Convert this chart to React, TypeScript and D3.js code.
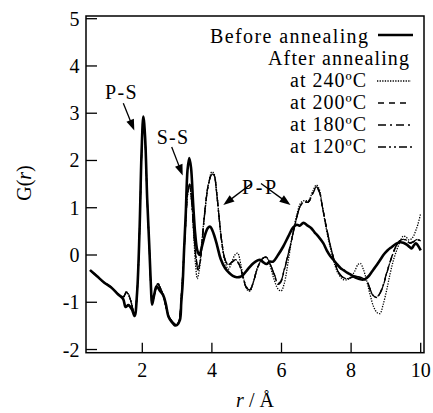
import React from 'react';
import * as d3 from 'd3';

const W = 433;
const H = 413;

const xTicks = [2, 4, 6, 8, 10];
const yTicks = [-2, -1, 0, 1, 2, 3, 4, 5];

const legendLabels = ['at 240ºC', 'at 200ºC', 'at 180ºC', 'at 120ºC'];

const before: [number, number][] = [
  [0.5, -0.32], [0.7, -0.45], [0.9, -0.58], [1.1, -0.68], [1.3, -0.83], [1.45, -0.93],
  [1.52, -1.1], [1.6, -1.06], [1.7, -1.15], [1.78, -1.29], [1.85, -0.8], [1.92, 0.5],
  [1.98, 2.2], [2.03, 2.93], [2.08, 2.5], [2.14, 1.2], [2.2, 0.2], [2.25, -0.7],
  [2.28, -1.05], [2.34, -0.85], [2.41, -0.66], [2.5, -0.75], [2.6, -0.85], [2.68, -1.05],
  [2.75, -1.3], [2.85, -1.42], [2.94, -1.49], [3.0, -1.48], [3.08, -1.38], [3.12, -1.0],
  [3.16, -0.6], [3.2, 0.1], [3.25, 0.9], [3.3, 1.8], [3.35, 2.05], [3.4, 1.85],
  [3.46, 1.1], [3.52, 0.45], [3.58, 0.1], [3.64, 0.0], [3.72, 0.2], [3.8, 0.42],
  [3.88, 0.57], [3.95, 0.6], [4.05, 0.45], [4.15, 0.2], [4.25, -0.08], [4.38, -0.28],
  [4.5, -0.38], [4.6, -0.44], [4.71, -0.47], [4.82, -0.46], [4.9, -0.42], [5.0, -0.33],
  [5.09, -0.25], [5.2, -0.17], [5.3, -0.12], [5.38, -0.1], [5.47, -0.15], [5.57, -0.19],
  [5.66, -0.14], [5.76, -0.14], [5.9, 0.0], [6.05, 0.18], [6.2, 0.4], [6.33, 0.58],
  [6.44, 0.64], [6.52, 0.62], [6.63, 0.68], [6.75, 0.62], [6.85, 0.57], [6.95, 0.48],
  [7.05, 0.4], [7.2, 0.25], [7.3, 0.1], [7.4, -0.02], [7.49, -0.1], [7.6, -0.2],
  [7.7, -0.28], [7.78, -0.32], [7.9, -0.38], [8.0, -0.42], [8.1, -0.47], [8.2, -0.5],
  [8.3, -0.52], [8.4, -0.51], [8.5, -0.45], [8.6, -0.35], [8.7, -0.25], [8.83, -0.11],
  [8.95, 0.02], [9.05, 0.1], [9.15, 0.16], [9.3, 0.24], [9.4, 0.27], [9.5, 0.26],
  [9.6, 0.22], [9.68, 0.17], [9.74, 0.14], [9.8, 0.2], [9.86, 0.25], [9.92, 0.2], [10.0, 0.1],
];

const a240: [number, number][] = [
  [0.5, -0.32], [0.7, -0.45], [0.9, -0.58], [1.1, -0.68], [1.3, -0.82], [1.45, -0.9],
  [1.55, -0.78], [1.65, -0.92], [1.78, -1.27], [1.85, -0.8], [1.92, 0.5], [1.98, 2.15],
  [2.03, 2.88], [2.08, 2.45], [2.14, 1.2], [2.2, 0.2], [2.25, -0.7], [2.29, -1.0],
  [2.36, -0.78], [2.45, -0.6], [2.52, -0.7], [2.6, -0.85], [2.7, -1.15], [2.8, -1.35],
  [2.92, -1.45], [2.99, -1.48], [3.06, -1.38], [3.12, -0.9], [3.18, -0.2], [3.24, 0.6],
  [3.3, 1.25], [3.36, 1.45], [3.42, 1.1], [3.48, 0.4], [3.53, -0.2], [3.58, -0.5],
  [3.63, -0.35], [3.7, 0.2], [3.8, 0.95], [3.9, 1.5], [4.0, 1.76], [4.06, 1.72],
  [4.13, 1.4], [4.2, 0.85], [4.28, 0.3], [4.38, -0.15], [4.47, -0.3], [4.56, -0.18],
  [4.66, 0.0], [4.74, 0.04], [4.83, -0.2], [4.93, -0.55], [5.03, -0.75], [5.1, -0.76],
  [5.2, -0.55], [5.33, -0.22], [5.48, -0.06], [5.57, -0.06], [5.66, -0.2], [5.78, -0.5],
  [5.9, -0.72], [5.99, -0.76], [6.08, -0.6], [6.2, -0.1], [6.32, 0.45], [6.44, 0.85],
  [6.55, 1.1], [6.65, 1.15], [6.77, 1.15], [6.9, 1.35], [7.0, 1.48], [7.08, 1.4],
  [7.18, 1.0], [7.3, 0.5], [7.42, 0.1], [7.55, -0.25], [7.65, -0.42], [7.78, -0.52],
  [7.9, -0.52], [8.0, -0.46], [8.1, -0.35], [8.2, -0.2], [8.27, -0.18], [8.35, -0.3],
  [8.45, -0.55], [8.55, -0.85], [8.65, -1.1], [8.75, -1.22], [8.83, -1.24], [8.92, -1.05],
  [9.02, -0.75], [9.12, -0.4], [9.22, -0.1], [9.32, 0.12], [9.42, 0.3], [9.5, 0.4],
  [9.58, 0.38], [9.66, 0.32], [9.75, 0.35], [9.85, 0.5], [9.92, 0.65], [10.0, 0.88],
];

const a200: [number, number][] = [
  [0.5, -0.32], [0.7, -0.45], [0.9, -0.58], [1.1, -0.68], [1.3, -0.82], [1.45, -0.9],
  [1.55, -0.76], [1.65, -0.92], [1.78, -1.26], [1.85, -0.8], [1.92, 0.5], [1.98, 2.1],
  [2.03, 2.85], [2.08, 2.45], [2.14, 1.2], [2.2, 0.2], [2.25, -0.7], [2.29, -1.0],
  [2.36, -0.8], [2.44, -0.6], [2.52, -0.7], [2.6, -0.85], [2.7, -1.15], [2.8, -1.35],
  [2.92, -1.45], [2.99, -1.48], [3.06, -1.38], [3.12, -0.9], [3.18, -0.2], [3.24, 0.6],
  [3.3, 1.3], [3.36, 1.5], [3.42, 1.15], [3.48, 0.5], [3.54, 0.0], [3.6, -0.28],
  [3.66, -0.15], [3.72, 0.3], [3.8, 0.95], [3.9, 1.5], [4.0, 1.7], [4.06, 1.68],
  [4.13, 1.35], [4.2, 0.85], [4.28, 0.3], [4.38, -0.1], [4.48, -0.2], [4.58, -0.15],
  [4.68, -0.12], [4.78, -0.2], [4.88, -0.45], [4.98, -0.68], [5.08, -0.75], [5.18, -0.6],
  [5.3, -0.3], [5.45, -0.08], [5.57, -0.05], [5.68, -0.2], [5.8, -0.42], [5.9, -0.6],
  [5.98, -0.55], [6.08, -0.3], [6.2, 0.05], [6.3, 0.35], [6.44, 0.8], [6.55, 1.05],
  [6.65, 1.12], [6.77, 1.12], [6.9, 1.3], [7.0, 1.42], [7.08, 1.35], [7.18, 1.0],
  [7.3, 0.55], [7.42, 0.15], [7.55, -0.2], [7.65, -0.38], [7.78, -0.48], [7.9, -0.5],
  [8.0, -0.48], [8.1, -0.45], [8.2, -0.46], [8.3, -0.48], [8.45, -0.55], [8.55, -0.72],
  [8.64, -0.86], [8.75, -0.9], [8.88, -0.74], [9.02, -0.4], [9.12, -0.15], [9.21, 0.04],
  [9.3, 0.2], [9.4, 0.3], [9.5, 0.33], [9.6, 0.3], [9.7, 0.25], [9.8, 0.28], [9.9, 0.32], [10.0, 0.3],
];

const a180: [number, number][] = [
  [0.5, -0.32], [0.7, -0.45], [0.9, -0.58], [1.1, -0.68], [1.3, -0.82], [1.45, -0.88],
  [1.55, -0.8], [1.65, -0.93], [1.78, -1.26], [1.85, -0.8], [1.92, 0.5], [1.98, 2.1],
  [2.03, 2.85], [2.08, 2.45], [2.14, 1.2], [2.2, 0.2], [2.25, -0.7], [2.29, -1.0],
  [2.36, -0.8], [2.44, -0.62], [2.52, -0.7], [2.6, -0.85], [2.7, -1.15], [2.8, -1.35],
  [2.92, -1.45], [2.99, -1.48], [3.06, -1.38], [3.12, -0.9], [3.18, -0.2], [3.24, 0.6],
  [3.3, 1.28], [3.36, 1.48], [3.42, 1.12], [3.48, 0.45], [3.54, -0.05], [3.6, -0.32],
  [3.66, -0.18], [3.72, 0.28], [3.8, 0.92], [3.9, 1.48], [4.0, 1.72], [4.06, 1.7],
  [4.13, 1.36], [4.2, 0.85], [4.28, 0.3], [4.38, -0.1], [4.48, -0.22], [4.58, -0.14],
  [4.68, -0.1], [4.78, -0.18], [4.88, -0.42], [4.98, -0.66], [5.08, -0.74], [5.18, -0.6],
  [5.3, -0.3], [5.45, -0.08], [5.57, -0.05], [5.68, -0.2], [5.8, -0.44], [5.9, -0.62],
  [5.98, -0.58], [6.08, -0.32], [6.2, 0.02], [6.3, 0.35], [6.44, 0.8], [6.55, 1.05],
  [6.65, 1.12], [6.77, 1.12], [6.9, 1.32], [7.0, 1.44], [7.08, 1.36], [7.18, 1.0],
  [7.3, 0.55], [7.42, 0.15], [7.55, -0.2], [7.65, -0.38], [7.78, -0.48], [7.9, -0.5],
  [8.0, -0.48], [8.1, -0.45], [8.2, -0.46], [8.3, -0.49], [8.45, -0.56], [8.55, -0.74],
  [8.64, -0.86], [8.75, -0.88], [8.88, -0.72], [9.02, -0.38], [9.12, -0.14], [9.21, 0.05],
  [9.3, 0.2], [9.4, 0.3], [9.5, 0.34], [9.6, 0.31], [9.7, 0.26], [9.8, 0.29], [9.9, 0.33], [10.0, 0.32],
];

const a120: [number, number][] = [
  [0.5, -0.32], [0.7, -0.45], [0.9, -0.58], [1.1, -0.68], [1.3, -0.82], [1.45, -0.89],
  [1.55, -0.79], [1.65, -0.92], [1.78, -1.26], [1.85, -0.8], [1.92, 0.5], [1.98, 2.1],
  [2.03, 2.85], [2.08, 2.45], [2.14, 1.2], [2.2, 0.2], [2.25, -0.7], [2.29, -1.0],
  [2.36, -0.8], [2.44, -0.61], [2.52, -0.7], [2.6, -0.85], [2.7, -1.15], [2.8, -1.35],
  [2.92, -1.45], [2.99, -1.48], [3.06, -1.38], [3.12, -0.9], [3.18, -0.2], [3.24, 0.6],
  [3.3, 1.3], [3.36, 1.5], [3.42, 1.14], [3.48, 0.48], [3.54, -0.02], [3.6, -0.3],
  [3.66, -0.16], [3.72, 0.3], [3.8, 0.94], [3.9, 1.5], [4.0, 1.71], [4.06, 1.69],
  [4.13, 1.35], [4.2, 0.85], [4.28, 0.3], [4.38, -0.1], [4.48, -0.21], [4.58, -0.15],
  [4.68, -0.11], [4.78, -0.19], [4.88, -0.44], [4.98, -0.67], [5.08, -0.75], [5.18, -0.6],
  [5.3, -0.3], [5.45, -0.08], [5.57, -0.05], [5.68, -0.2], [5.8, -0.43], [5.9, -0.61],
  [5.98, -0.56], [6.08, -0.31], [6.2, 0.04], [6.3, 0.35], [6.44, 0.8], [6.55, 1.05],
  [6.65, 1.12], [6.77, 1.12], [6.9, 1.31], [7.0, 1.43], [7.08, 1.35], [7.18, 1.0],
  [7.3, 0.55], [7.42, 0.15], [7.55, -0.2], [7.65, -0.38], [7.78, -0.48], [7.9, -0.5],
  [8.0, -0.48], [8.1, -0.45], [8.2, -0.46], [8.3, -0.48], [8.45, -0.55], [8.55, -0.73],
  [8.64, -0.87], [8.75, -0.89], [8.88, -0.73], [9.02, -0.39], [9.12, -0.15], [9.21, 0.04],
  [9.3, 0.2], [9.4, 0.3], [9.5, 0.33], [9.6, 0.3], [9.7, 0.25], [9.8, 0.28], [9.9, 0.32], [10.0, 0.31],
];

const SERIF = { fontFamily: '"Liberation Serif", monospace' };

export default function App() {
  const x = d3.scaleLinear().domain([0, 10]).range([72.7, 420.7]);
  const y = d3.scaleLinear().domain([0, 5]).range([255, 18.7]);
  const left = 86, right = 424, top = 16, bottom = 352.7;

  const line = d3
    .line<[number, number]>()
    .x((d) => x(d[0]))
    .y((d) => y(d[1]))
    .curve(d3.curveCatmullRom.alpha(0.5));

  const series = [
    { data: a120, dash: '8,3,2,3,2,3', w: 1.3 },
    { data: a180, dash: '8,4,2,4', w: 1.3 },
    { data: a200, dash: '6,5', w: 1.3 },
    { data: a240, dash: '1.3,1.3', w: 1.3 },
  ];

  const legendRows = [
    { label: legendLabels[0], dash: '1.3,1.3', base: 87, x1: 377, x2: 411 },
    { label: legendLabels[1], dash: '6,5', base: 109, x1: 378, x2: 409 },
    { label: legendLabels[2], dash: '8,4,2,4', base: 131, x1: 378, x2: 410 },
    { label: legendLabels[3], dash: '8,3,2,3,2,3', base: 153, x1: 378, x2: 412 },
  ];

  const arrows = [
    { x1: 123.3, y1: 103.3, x2: 134.3, y2: 130.5 },
    { x1: 171.7, y1: 147, x2: 182.7, y2: 175.5 },
    { x1: 251.7, y1: 183.5, x2: 223.3, y2: 205 },
    { x1: 261, y1: 183.5, x2: 290.5, y2: 205 },
  ];

  const arrowHead = (a: { x1: number; y1: number; x2: number; y2: number }) => {
    const dx = a.x2 - a.x1, dy = a.y2 - a.y1;
    const L = Math.hypot(dx, dy);
    const ux = dx / L, uy = dy / L;
    const hl = 11, hw = 4;
    const bx = a.x2 - ux * hl, by = a.y2 - uy * hl;
    return `M${a.x2},${a.y2}L${bx - uy * hw},${by + ux * hw}L${bx + uy * hw},${by - ux * hw}Z`;
  };

  return (
    <svg width={W} height={H} style={{ position: 'absolute', left: 0, top: 0 }}>
      <rect x={0} y={0} width={W} height={H} fill="#fff" />
      <defs>
        <clipPath id="plotclip">
          <rect x={left} y={top} width={right - left} height={bottom - top} />
        </clipPath>
      </defs>

      <g clipPath="url(#plotclip)">
        {series.map((s, i) => (
          <path key={i} d={line(s.data) || ''} fill="none" stroke="#000" strokeWidth={s.w} strokeDasharray={s.dash} />
        ))}
        <path d={line(before) || ''} fill="none" stroke="#000" strokeWidth={2.6} strokeLinejoin="round" />
      </g>

      <rect x={left} y={top} width={right - left} height={bottom - top} fill="none" stroke="#000" strokeWidth={1.5} />

      {yTicks.map((t) => (
        <line key={'yl' + t} x1={left} x2={left + 11} y1={y(t)} y2={y(t)} stroke="#000" strokeWidth={1.3} />
      ))}
      {yTicks.map((t) => (
        <text key={'yt' + t} x={79.5} y={y(t) + 7} fontSize={20} textAnchor="end" style={SERIF}>
          {t < 0 ? '-' + Math.abs(t) : String(t)}
        </text>
      ))}

      {xTicks.map((t) => (
        <line key={'xl' + t} x1={x(t)} x2={x(t)} y1={bottom} y2={bottom - 10} stroke="#000" strokeWidth={1.3} />
      ))}
      {xTicks.map((t) => (
        <text key={'xt' + t} x={x(t)} y={377} fontSize={20} textAnchor="middle" style={SERIF}>
          {String(t)}
        </text>
      ))}

      <text x={255} y={407} fontSize={20} textAnchor="middle" style={SERIF}>
        <tspan fontStyle="italic">r</tspan>
        <tspan> / Å</tspan>
      </text>
      <text transform="translate(31,183) rotate(-90)" fontSize={20} textAnchor="middle" style={SERIF}>
        <tspan>G(</tspan>
        <tspan fontStyle="italic">r</tspan>
        <tspan>)</tspan>
      </text>

      <text x={210} y={43} fontSize={20} style={SERIF} textLength={158} lengthAdjust="spacing">
        Before annealing
      </text>
      <line x1={378} x2={413} y1={35} y2={35} stroke="#000" strokeWidth={2.6} />
      <text x={268} y={65} fontSize={20} style={SERIF} textLength={141} lengthAdjust="spacing">
        After annealing
      </text>
      {legendRows.map((r, i) => (
        <text key={'lt' + i} x={290} y={r.base} fontSize={20} style={SERIF} textLength={76} lengthAdjust="spacing">
          {r.label}
        </text>
      ))}
      {legendRows.map((r, i) => (
        <line key={'ll' + i} x1={r.x1} x2={r.x2} y1={r.base - 6} y2={r.base - 6} stroke="#000" strokeWidth={1.3} strokeDasharray={r.dash} />
      ))}

      <text x={105} y={99} fontSize={20} style={SERIF} textLength={31.5} lengthAdjust="spacing">P-S</text>
      <text x={156.7} y={144} fontSize={20} style={SERIF} textLength={31.5} lengthAdjust="spacing">S-S</text>
      <text x={242} y={193.5} fontSize={20} style={SERIF} textLength={34} lengthAdjust="spacing">P-P</text>
      {arrows.map((a, i) => (
        <g key={'ar' + i}>
          <line x1={a.x1} y1={a.y1} x2={a.x2 - (a.x2 - a.x1) * 0.25} y2={a.y2 - (a.y2 - a.y1) * 0.25} stroke="#000" strokeWidth={1.3} />
          <path d={arrowHead(a)} fill="#000" />
        </g>
      ))}
    </svg>
  );
}
